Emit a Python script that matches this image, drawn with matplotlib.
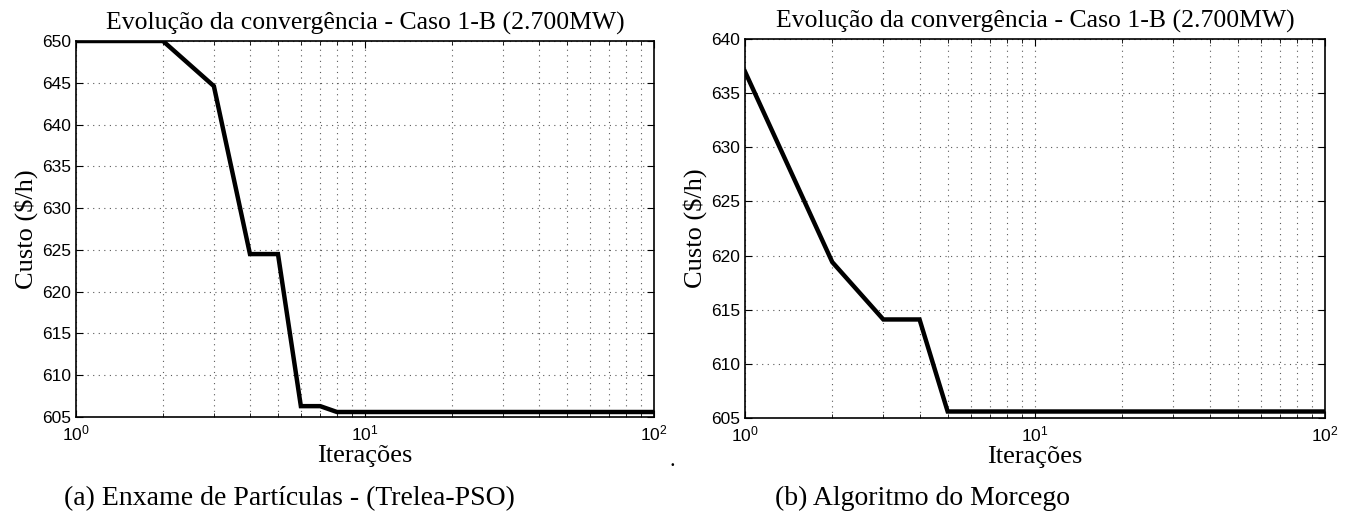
import matplotlib

matplotlib.use("Agg")
import matplotlib.pyplot as plt
import numpy as np

# Convergence history (best cost per iteration), iterations 1..100
iters = np.arange(1, 101)

pso_head = [650.0, 650.0, 644.6, 624.5, 624.5, 606.3, 606.3]
pso_tail_value = 605.6
pso_cost = pso_head + [pso_tail_value] * (len(iters) - len(pso_head))

bat_head = [637.0, 619.4, 614.1, 614.1]
bat_tail_value = 605.6
bat_cost = bat_head + [bat_tail_value] * (len(iters) - len(bat_head))

title = "Evolução da convergência - Caso 1-B (2.700MW)"
xlabel = "Iterações"
ylabel = "Custo ($/h)"
captions = ["(a) Enxame de Partículas - (Trelea-PSO)", "(b) Algoritmo do Morcego"]
yticks_pso = [605, 610, 615, 620, 625, 630, 635, 640, 645, 650]
yticks_bat = [605, 610, 615, 620, 625, 630, 635, 640]

SERIF = ["Liberation Serif", "DejaVu Serif"]
SANS = ["Liberation Sans", "DejaVu Sans"]


def draw_panel(ax, y, yticks):
    ax.semilogx(iters, y, color="black", lw=3.2, solid_joinstyle="miter")
    ax.set_xlim(1, 100)
    ax.set_ylim(yticks[0], yticks[-1])
    ax.set_yticks(yticks)
    ax.grid(True, which="both", axis="x", ls=(0, (1, 4)), color="0.35", lw=0.8)
    ax.grid(True, which="major", axis="y", ls=(0, (1, 4)), color="0.35", lw=0.8)
    ax.tick_params(which="both", direction="in", top=True, right=True, labelsize=12.5)
    ax.tick_params(which="major", length=5)
    ax.tick_params(which="minor", length=3)
    ax.tick_params(axis="x", which="major", pad=5)
    for lab in ax.get_xticklabels() + ax.get_yticklabels():
        lab.set_family(SANS)
    for s in ax.spines.values():
        s.set_linewidth(1.2)
    ax.set_title(title, family=SERIF, fontsize=18.5, pad=8)
    ax.set_xlabel(xlabel, family=SERIF, fontsize=19, labelpad=1)
    ax.set_ylabel(ylabel, family=SERIF, fontsize=19, labelpad=3)


fig = plt.figure(figsize=(13.52, 5.21), dpi=100)
ax1 = fig.add_axes([0.0562, 0.1996, 0.4275, 0.7217])
ax2 = fig.add_axes([0.5510, 0.1977, 0.4290, 0.7274])

draw_panel(ax1, pso_cost, yticks_pso)
draw_panel(ax2, bat_cost, yticks_bat)

fig.text(0.047, 0.03, captions[0], family=SERIF, fontsize=20, ha="left")
fig.text(0.573, 0.03, captions[1], family=SERIF, fontsize=20, ha="left")
fig.text(0.497, 0.105, ".", family=SERIF, fontsize=16, ha="center")

fig.savefig("out.png", dpi=100)
